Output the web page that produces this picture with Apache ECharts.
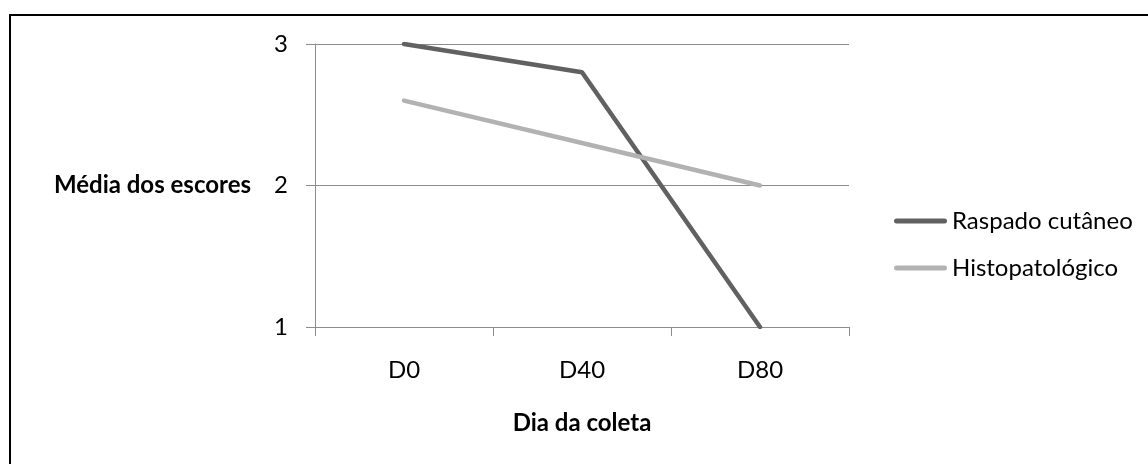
<!DOCTYPE html>
<html>
<head>
<meta charset="utf-8">
<script src="https://cdn.jsdelivr.net/npm/echarts@6/dist/echarts.min.js"></script>
<style>
html,body{margin:0;padding:0;background:#fff;}
#chart{width:1148px;height:464px;}
</style>
</head>
<body>
<div id="chart"></div>
<script>
var categories = ['D0', 'D40', 'D80'];
var raspado = [3.0, 2.8, 1.0];
var histopatologico = [2.6, 2.3, 2.0];
var seriesNames = ['Raspado cutâneo', 'Histopatológico'];
var yTicks = [1, 2, 3];

var FONT = 'Lato';
var FS = 24;
var chart = echarts.init(document.getElementById('chart'), null, {renderer: 'canvas'});
chart.setOption({
  animation: false,
  backgroundColor: '#fff',
  graphic: [{
    type: 'rect', z: -1,
    shape: {x: 10, y: 15, width: 1200, height: 500},
    style: {fill: 'none', stroke: '#000', lineWidth: 2}
  }],
  grid: {left: 315, right: 299, top: 44, bottom: 137},
  legend: {
    orient: 'vertical', left: 889, top: 204,
    itemWidth: 53, itemHeight: 5, itemGap: 23,
    itemStyle: {},
    icon: 'path://M2.5,0H50.5A2.5,2.5,0,0,1,50.5,5H2.5A2.5,2.5,0,0,1,2.5,0Z',
    textStyle: {fontFamily: FONT, fontSize: FS, color: '#000', lineHeight: 22},
    data: seriesNames
  },
  xAxis: {
    type: 'category', data: categories, boundaryGap: true,
    name: 'Dia da coleta', nameLocation: 'middle', nameGap: 96,
    nameTextStyle: {fontFamily: FONT, fontSize: FS, fontWeight: 'bold', color: '#000', verticalAlign: 'middle'},
    axisLine: {lineStyle: {color: '#8c8c8c', width: 1}},
    axisTick: {show: true, length: 9, alignWithLabel: false, lineStyle: {color: '#8c8c8c'}},
    axisLabel: {fontFamily: FONT, fontSize: FS, color: '#000', margin: 43, verticalAlign: 'middle'}
  },
  yAxis: {
    type: 'value', min: 1, max: 3, interval: 1,
    name: 'Média dos escores', nameLocation: 'middle', nameRotate: 0, nameGap: 64,
    nameTextStyle: {fontFamily: FONT, fontSize: FS, fontWeight: 'bold', color: '#000', align: 'right', verticalAlign: 'middle'},
    axisLine: {show: true, lineStyle: {color: '#8c8c8c', width: 1}},
    axisTick: {show: true, length: 9, lineStyle: {color: '#8c8c8c'}},
    splitLine: {show: true, lineStyle: {color: '#8c8c8c', width: 1}},
    axisLabel: {fontFamily: FONT, fontSize: FS, color: '#000', margin: 27,
      formatter: function (v) { return yTicks.indexOf(v) >= 0 ? String(v) : ''; }}
  },
  series: [{
    name: seriesNames[0], type: 'line', data: raspado,
    symbol: 'none', color: '#616161',
    lineStyle: {width: 4.5, color: '#616161', cap: 'round'}
  }, {
    name: seriesNames[1], type: 'line', data: histopatologico,
    symbol: 'none', color: '#b2b2b2',
    lineStyle: {width: 4.5, color: '#b2b2b2', cap: 'round'}
  }]
});
</script>
</body>
</html>
